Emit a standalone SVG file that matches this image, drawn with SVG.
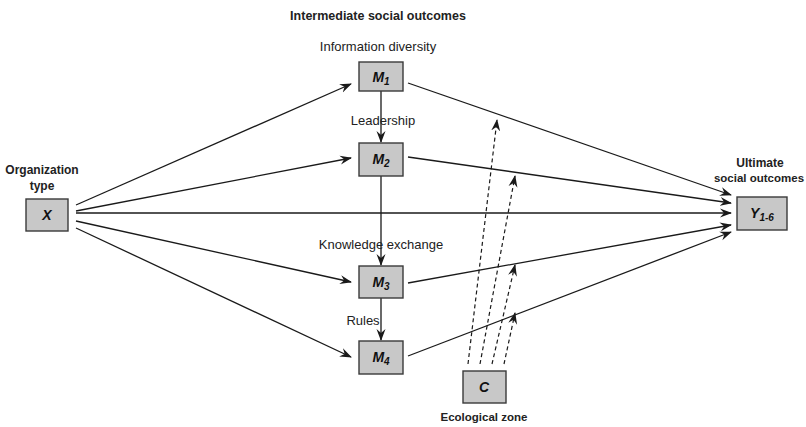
<svg xmlns="http://www.w3.org/2000/svg" width="806" height="427" viewBox="0 0 806 427">
  <style>
    .box { fill: #c8c8c8; stroke: #3a3a3a; stroke-width: 1.4; }
    .var { font-family: "Liberation Sans", Arial, sans-serif; font-weight: bold; font-style: italic; font-size: 14px; fill: #111; text-anchor: middle; }
    .sub { font-size: 10px; }
    .lbl { font-family: "Liberation Sans", Arial, sans-serif; font-size: 13px; fill: #222; text-anchor: middle; }
    .head { font-family: "Liberation Sans", Arial, sans-serif; font-weight: bold; font-size: 12px; fill: #222; text-anchor: middle; }
    .edge { stroke: #1a1a1a; stroke-width: 1.3; fill: none; marker-end: url(#arrow); }
    .dash { stroke: #1a1a1a; stroke-width: 1.2; fill: none; stroke-dasharray: 4 3; marker-end: url(#arrow); }
  </style>
  <defs>
    <marker id="arrow" viewBox="0 0 12 10" refX="11" refY="5" markerWidth="12" markerHeight="10" markerUnits="userSpaceOnUse" orient="auto">
      <path d="M0,0.5 L12,5 L0,9.5 L4,5 Z" fill="#1a1a1a"/>
    </marker>
  </defs>

  <rect width="806" height="427" fill="#ffffff"/>

  <text class="head" x="378" y="20" style="font-size:12.5px">Intermediate social outcomes</text>

  <g id="connectors">
    <!-- X to mediators and outcome -->
    <line class="edge" x1="76" y1="205" x2="351" y2="84"/>
    <line class="edge" x1="76" y1="211" x2="351" y2="158"/>
    <line class="edge" x1="76" y1="213" x2="731" y2="213"/>
    <line class="edge" x1="76" y1="221" x2="351" y2="282"/>
    <line class="edge" x1="76" y1="228" x2="351" y2="357"/>
    <!-- mediator chain -->
    <line class="edge" x1="381" y1="90" x2="381" y2="142"/>
    <line class="edge" x1="381" y1="176" x2="381" y2="265"/>
    <line class="edge" x1="381" y1="298" x2="381" y2="340"/>
    <!-- mediators to Y -->
    <line class="edge" x1="408" y1="83" x2="731" y2="195"/>
    <line class="edge" x1="408" y1="157" x2="731" y2="203"/>
    <line class="edge" x1="408" y1="283" x2="731" y2="225"/>
    <line class="edge" x1="408" y1="356" x2="731" y2="232"/>
    <!-- moderation by C -->
    <line class="dash" x1="468" y1="364" x2="497" y2="120"/>
    <line class="dash" x1="480" y1="364" x2="515" y2="176"/>
    <line class="dash" x1="492" y1="364" x2="515" y2="265"/>
    <line class="dash" x1="504" y1="364" x2="515" y2="313"/>
  </g>

  <g id="node-x">
    <text class="head" x="42" y="174">Organization</text>
    <text class="head" x="42" y="190">type</text>
    <rect class="box" x="26" y="199" width="42" height="32"/>
    <text class="var" x="47" y="220">X</text>
  </g>

  <g id="node-m1">
    <text class="lbl" x="378" y="51">Information diversity</text>
    <rect class="box" x="359" y="62" width="44" height="29"/>
    <text class="var" x="381" y="82">M<tspan class="sub" dy="3">1</tspan></text>
  </g>

  <g id="node-m2">
    <text class="lbl" x="383" y="125">Leadership</text>
    <rect class="box" x="359" y="143" width="44" height="33"/>
    <text class="var" x="381" y="164">M<tspan class="sub" dy="3">2</tspan></text>
  </g>

  <g id="node-m3">
    <text class="lbl" x="381" y="249">Knowledge exchange</text>
    <rect class="box" x="359" y="266" width="44" height="32"/>
    <text class="var" x="381" y="287">M<tspan class="sub" dy="3">3</tspan></text>
  </g>

  <g id="node-m4">
    <text class="lbl" x="363" y="325">Rules</text>
    <rect class="box" x="359" y="341" width="44" height="33"/>
    <text class="var" x="381" y="362">M<tspan class="sub" dy="3">4</tspan></text>
  </g>

  <g id="node-c">
    <rect class="box" x="463" y="371" width="43" height="32"/>
    <text class="var" x="484" y="392">C</text>
    <text class="head" x="484" y="421" style="font-size:11.5px">Ecological zone</text>
  </g>

  <g id="node-y">
    <text class="head" x="760" y="167">Ultimate</text>
    <text class="head" x="759" y="182" style="font-size:11.5px">social outcomes</text>
    <rect class="box" x="737" y="197" width="50" height="33"/>
    <text class="var" x="762" y="218">Y<tspan class="sub" dy="3">1-6</tspan></text>
  </g>
</svg>
